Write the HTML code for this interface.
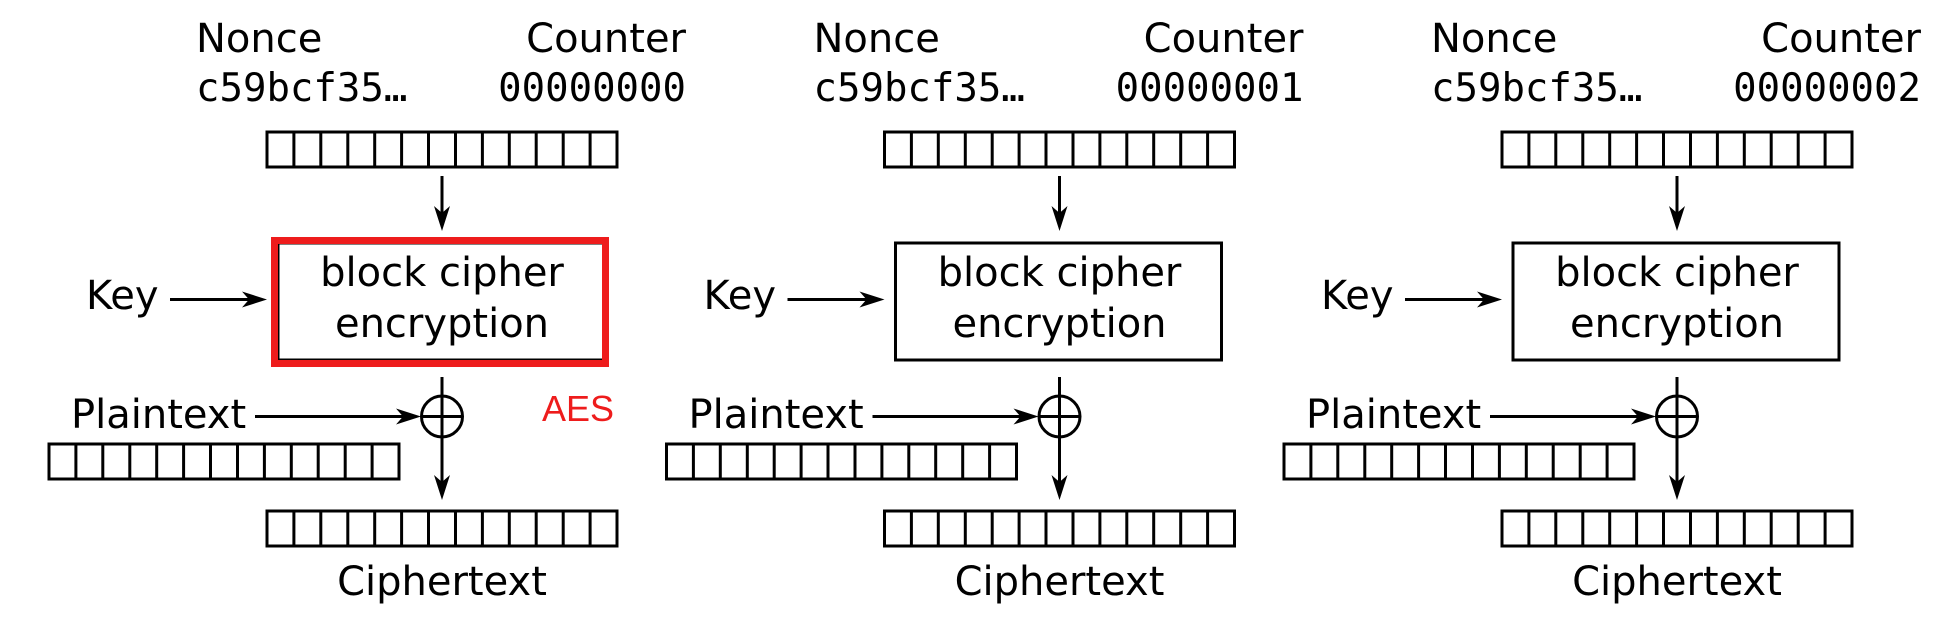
<!DOCTYPE html>
<html><head><meta charset="utf-8"><style>
html,body{margin:0;padding:0;background:#fff;}
svg{display:block;}
text{font-family:"DejaVu Sans","Liberation Sans",sans-serif;font-size:40px;fill:#000;}
.m{font-family:"DejaVu Sans Mono","Liberation Mono",monospace;font-size:39px;}
</style></head><body>
<svg width="1960" height="622" viewBox="0 0 1960 622" xmlns="http://www.w3.org/2000/svg">
<defs>
<g id="reg" fill="none" stroke="#000" stroke-width="3">
<rect x="0" y="0" width="350" height="35"/>
<path d="M26.9 0V35M53.8 0V35M80.8 0V35M107.7 0V35M134.6 0V35M161.5 0V35M188.5 0V35M215.4 0V35M242.3 0V35M269.2 0V35M296.2 0V35M323.1 0V35"/>
</g>
<path id="ahd" d="M0 0 L-8 -25 L0 -18 L8 -25 Z" fill="#000"/>
<path id="ahr" d="M0 0 L-25 -8 L-18 0 L-25 8 Z" fill="#000"/>
<g id="panel">
<use href="#reg" x="267" y="132"/>
<line x1="442" y1="176" x2="442" y2="225" stroke="#000" stroke-width="3"/>
<use href="#ahd" x="442" y="231"/>
<rect x="278" y="243" width="326" height="117" fill="none" stroke="#000" stroke-width="3"/>
<line x1="170" y1="299.5" x2="258" y2="299.5" stroke="#000" stroke-width="3"/>
<use href="#ahr" x="267" y="299.5"/>
<line x1="255" y1="416.5" x2="412" y2="416.5" stroke="#000" stroke-width="3"/>
<use href="#ahr" x="421" y="416.5"/>
<circle cx="442" cy="416.5" r="20.5" fill="none" stroke="#000" stroke-width="3"/>
<line x1="442" y1="377" x2="442" y2="492" stroke="#000" stroke-width="3"/>
<line x1="421" y1="416.5" x2="463" y2="416.5" stroke="#000" stroke-width="3"/>
<use href="#ahd" x="442" y="500"/>
<use href="#reg" x="49" y="444"/>
<use href="#reg" x="267" y="511"/>
</g>
</defs>

<use href="#panel" x="0" y="0"/>
<use href="#panel" x="617.5" y="0"/>
<use href="#panel" x="1235" y="0"/>

<rect x="274.5" y="240.5" width="331" height="123" fill="none" stroke="#ee1c1c" stroke-width="7"/>
<text x="542" y="421" style="font-family:'Liberation Sans',Arial,sans-serif;font-size:36px;fill:#ee1c1c">AES</text>

<g>
<text x="196" y="52">Nonce</text>
<text x="686" y="52" text-anchor="end">Counter</text>
<text class="m" x="196" y="101">c59bcf35…</text>
<text class="m" x="686" y="101" text-anchor="end">00000000</text>
<text x="442" y="286" text-anchor="middle">block cipher</text>
<text x="442" y="337" text-anchor="middle">encryption</text>
<text x="86" y="309">Key</text>
<text x="71" y="428">Plaintext</text>
<text x="442" y="595" text-anchor="middle">Ciphertext</text>
</g>
<g transform="translate(617.5,0)">
<text x="196" y="52">Nonce</text>
<text x="686" y="52" text-anchor="end">Counter</text>
<text class="m" x="196" y="101">c59bcf35…</text>
<text class="m" x="686" y="101" text-anchor="end">00000001</text>
<text x="442" y="286" text-anchor="middle">block cipher</text>
<text x="442" y="337" text-anchor="middle">encryption</text>
<text x="86" y="309">Key</text>
<text x="71" y="428">Plaintext</text>
<text x="442" y="595" text-anchor="middle">Ciphertext</text>
</g>
<g transform="translate(1235,0)">
<text x="196" y="52">Nonce</text>
<text x="686" y="52" text-anchor="end">Counter</text>
<text class="m" x="196" y="101">c59bcf35…</text>
<text class="m" x="686" y="101" text-anchor="end">00000002</text>
<text x="442" y="286" text-anchor="middle">block cipher</text>
<text x="442" y="337" text-anchor="middle">encryption</text>
<text x="86" y="309">Key</text>
<text x="71" y="428">Plaintext</text>
<text x="442" y="595" text-anchor="middle">Ciphertext</text>
</g>
</svg>
</body></html>
